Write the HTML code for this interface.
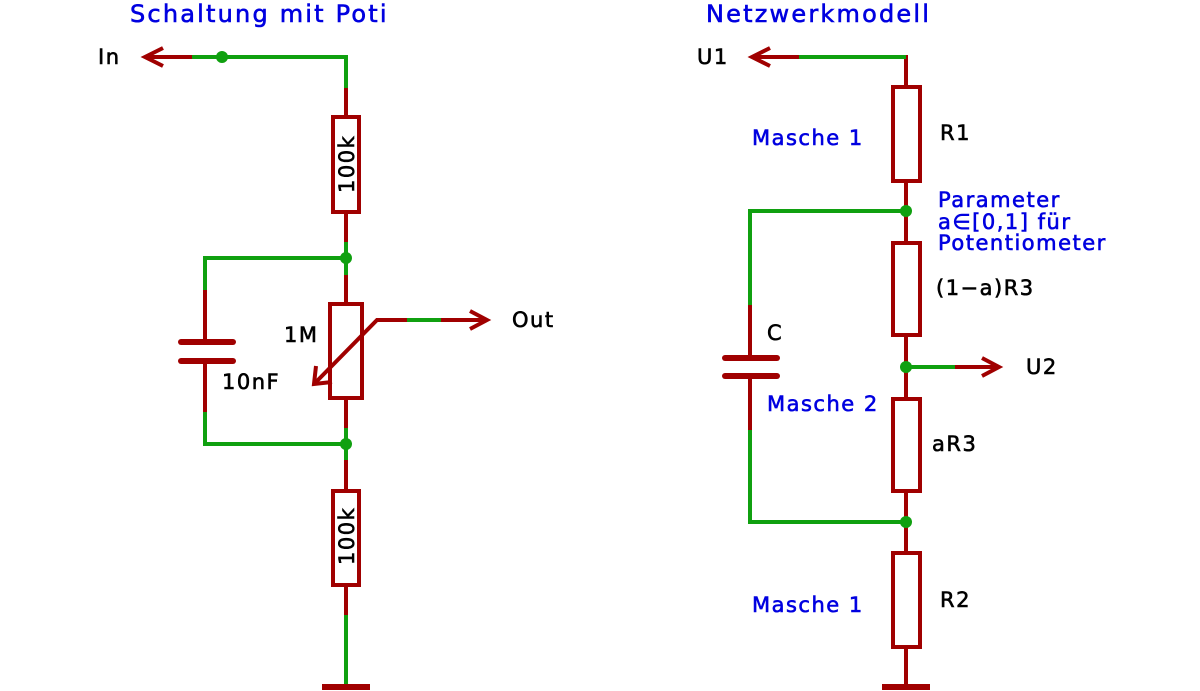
<!DOCTYPE html>
<html><head><meta charset="utf-8"><style>
html,body{margin:0;padding:0;background:#fff;}
svg{display:block;}
text{font-family:"DejaVu Sans","Liberation Sans",sans-serif;font-size:21px;letter-spacing:1.5px;stroke-width:0.6px;}
.b{fill:#0000e0;stroke:#0000e0;}
.k{fill:#000;stroke:#000;}
.t{font-size:24px;letter-spacing:2.2px;}
</style></head><body>
<svg width="1200" height="691" viewBox="0 0 1200 691" xmlns="http://www.w3.org/2000/svg">
<g fill="none" stroke-width="4" stroke-linecap="butt">
<!-- LEFT -->
<g stroke="#a00000">
<line x1="145" y1="57" x2="192" y2="57"/>
<polyline points="163,48 145,57 163,66"/>
<line x1="346" y1="88" x2="346" y2="117"/>
<rect x="333" y="117" width="26" height="95" fill="#fff"/>
<line x1="346" y1="212" x2="346" y2="242"/>
<line x1="346" y1="275" x2="346" y2="304"/>
<rect x="330" y="304" width="32" height="94" fill="#fff"/>
<line x1="346" y1="398" x2="346" y2="428"/>
<line x1="346" y1="460" x2="346" y2="491"/>
<rect x="333" y="491" width="26" height="94" fill="#fff"/>
<line x1="346" y1="585" x2="346" y2="615"/>
<line x1="322" y1="687" x2="370" y2="687" stroke-width="6"/>
<line x1="205" y1="290" x2="205" y2="342"/>
<line x1="205" y1="361" x2="205" y2="412"/>
<line x1="181" y1="342" x2="233" y2="342" stroke-width="6" stroke-linecap="round"/>
<line x1="181" y1="361" x2="233" y2="361" stroke-width="6" stroke-linecap="round"/>
<polyline points="407,320 377,320 316,382"/>
<polyline points="316,366 314,384 332,382"/>
<line x1="441" y1="320" x2="486" y2="320"/>
<polyline points="470,311 487,320 470,329"/>
</g>
<g stroke="#10a010">
<polyline points="192,57 346,57 346,88"/>
<line x1="346" y1="242" x2="346" y2="275"/>
<polyline points="346,258 205,258 205,290"/>
<line x1="346" y1="428" x2="346" y2="460"/>
<polyline points="205,412 205,444 346,444"/>
<line x1="407" y1="320" x2="441" y2="320"/>
<line x1="346" y1="615" x2="346" y2="684"/>
</g>
<g fill="#10a010" stroke="none">
<circle cx="222" cy="57" r="6"/><circle cx="346" cy="258" r="6"/><circle cx="346" cy="444" r="6"/>
</g>
<!-- RIGHT -->
<g stroke="#a00000">
<line x1="752" y1="57" x2="799" y2="57"/>
<polyline points="770,48 752,57 770,66"/>
<line x1="906" y1="55" x2="906" y2="87"/>
<rect x="893" y="87" width="27" height="94" fill="#fff"/>
<line x1="906" y1="181" x2="906" y2="243"/>
<rect x="893" y="243" width="27" height="92" fill="#fff"/>
<line x1="906" y1="335" x2="906" y2="399"/>
<rect x="893" y="399" width="27" height="92" fill="#fff"/>
<line x1="906" y1="491" x2="906" y2="553"/>
<rect x="893" y="553" width="27" height="94" fill="#fff"/>
<line x1="906" y1="647" x2="906" y2="684"/>
<line x1="882" y1="687" x2="930" y2="687" stroke-width="6"/>
<line x1="955" y1="367" x2="998" y2="367"/>
<polyline points="982,358 999,367 982,376"/>
<line x1="750" y1="305" x2="750" y2="358"/>
<line x1="750" y1="376" x2="750" y2="430"/>
<line x1="725" y1="358" x2="777" y2="358" stroke-width="6" stroke-linecap="round"/>
<line x1="725" y1="376" x2="777" y2="376" stroke-width="6" stroke-linecap="round"/>
</g>
<g stroke="#10a010">
<line x1="799" y1="57" x2="906" y2="57"/>
<polyline points="906,211 750,211 750,305"/>
<polyline points="750,430 750,522 906,522"/>
<line x1="906" y1="367" x2="955" y2="367"/>
</g>
<g fill="#10a010" stroke="none">
<circle cx="906" cy="211" r="6"/><circle cx="906" cy="367" r="6"/><circle cx="906" cy="522" r="6"/>
</g>
</g>
<!-- text -->
<text class="b t" x="130" y="22">Schaltung mit Poti</text>
<text class="b t" x="706" y="22">Netzwerkmodell</text>
<text class="k" x="98" y="64">In</text>
<text class="k" x="512" y="327">Out</text>
<text class="k" x="284" y="342">1M</text>
<text class="k" x="222" y="389">10nF</text>
<text class="k" transform="translate(354,193) rotate(-90)">100k</text>
<text class="k" transform="translate(354,565) rotate(-90)">100k</text>
<text class="k" x="697" y="64">U1</text>
<text class="k" x="1026" y="374">U2</text>
<text class="k" x="940" y="140">R1</text>
<text class="k" x="936" y="295">(1−a)R3</text>
<text class="k" x="767" y="340">C</text>
<text class="k" x="932" y="451">aR3</text>
<text class="k" x="940" y="607">R2</text>
<text class="b" x="752" y="145">Masche 1</text>
<text class="b" x="767" y="411">Masche 2</text>
<text class="b" x="752" y="612">Masche 1</text>
<text class="b" x="938" y="207">Parameter</text>
<text class="b" x="938" y="229">a∈[0,1] für</text>
<text class="b" x="938" y="250">Potentiometer</text>
</svg>
</body></html>
